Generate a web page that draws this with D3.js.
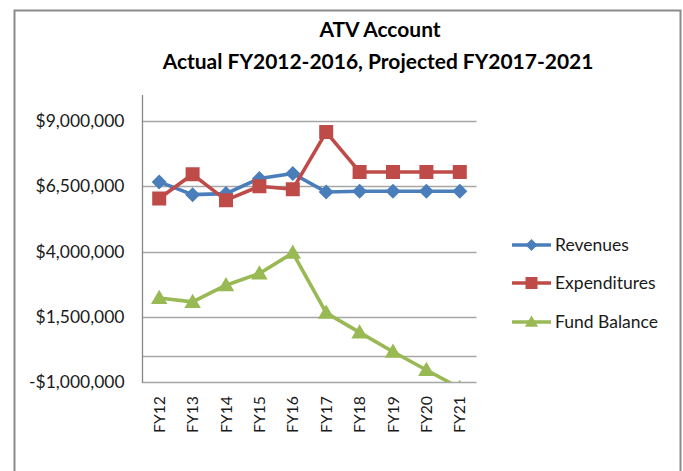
<!DOCTYPE html>
<html>
<head>
<meta charset="utf-8">
<script src="https://cdn.jsdelivr.net/npm/d3@7"></script>
<style>
  html, body { margin: 0; padding: 0; background: #fff; }
  svg { display: block; font-family: Lato, "Open Sans", "DejaVu Sans", sans-serif; }
</style>
</head>
<body>
<svg id="chart" width="683" height="471"></svg>
<script>
const categories = ["FY12", "FY13", "FY14", "FY15", "FY16", "FY17", "FY18", "FY19", "FY20", "FY21"];
const revenues = [6670000, 6180000, 6220000, 6800000, 6990000, 6280000, 6310000, 6310000, 6310000, 6310000];
const expenditures = [6030000, 6960000, 5970000, 6500000, 6390000, 8580000, 7050000, 7050000, 7050000, 7050000];
const fundBalance = [2220000, 2070000, 2710000, 3160000, 3950000, 1650000, 900000, 160000, -540000, -1230000];
const yTicks = [-1000000, 1500000, 4000000, 6500000, 9000000];
const titleLines = ["ATV Account", "Actual FY2012-2016, Projected FY2017-2021"];
const seriesNames = ["Revenues", "Expenditures", "Fund Balance"];

const series = [
  { name: seriesNames[0], values: revenues, color: "#4A7EBB", marker: "diamond" },
  { name: seriesNames[1], values: expenditures, color: "#BE4B48", marker: "square" },
  { name: seriesNames[2], values: fundBalance, color: "#98B954", marker: "triangle" }
];

const svg = d3.select("#chart");
const plot = { left: 142.5, right: 476.5, top: 95, bottom: 382 };

// scale a text's font so that its width matches a target width
function fitFont(sel, base, target) {
  sel.attr("font-size", base);
  const w = sel.node().getComputedTextLength();
  const fs = base * target / w;
  return fs;
}

// chart frame
svg.append("rect")
  .attr("x", 14.5).attr("y", 10.5)
  .attr("width", 666).attr("height", 480)
  .attr("fill", "#fff").attr("stroke", "#8A8A8A").attr("stroke-width", 2);

// title
const title = svg.append("g").attr("font-weight", "bold").attr("fill", "#000").attr("text-anchor", "middle");
const t1 = title.append("text").attr("x", 380).attr("y", 37).text(titleLines[0]);
const t2 = title.append("text").attr("x", 378).attr("y", 69).text(titleLines[1]);
const titleFs = fitFont(t2, 20, 431);
t2.attr("font-size", titleFs);
t1.attr("font-size", titleFs);

const x = d3.scaleBand().domain(categories).range([plot.left, plot.right]).padding(0);
const cx = c => x(c) + x.bandwidth() / 2;
const y = d3.scaleLinear().domain([-1000000, 10000000]).range([plot.bottom, plot.top]);

// gridlines
const gridVals = yTicks.concat([0]);
svg.append("g").selectAll("line").data(gridVals).join("line")
  .attr("x1", plot.left).attr("x2", plot.right)
  .attr("y1", d => Math.round(y(d)) + 0.5).attr("y2", d => Math.round(y(d)) + 0.5)
  .attr("stroke", "#A6A6A6").attr("stroke-width", 1.3);

// y axis
const fmt = d => (d < 0 ? "-$" : "$") + d3.format(",")(Math.abs(d));
const yAxis = d3.axisLeft(y).tickValues(yTicks).tickFormat(fmt).tickSize(0).tickPadding(18);
const yg = svg.append("g").attr("transform", `translate(${plot.left},0)`).call(yAxis);
yg.select(".domain").remove();
const yLabels = yg.selectAll("text").attr("fill", "#1a1a1a").attr("font-family", "Lato, sans-serif");
const yFs = fitFont(yLabels.filter(d => d === 9000000), 16, 89);
yLabels.attr("font-size", yFs);
yg.attr("font-size", yFs);
svg.append("line").attr("x1", plot.left).attr("x2", plot.left)
  .attr("y1", plot.top).attr("y2", plot.bottom + 1)
  .attr("stroke", "#868686").attr("stroke-width", 1.3);

// x axis labels
const xAxis = d3.axisBottom(x).tickSize(0).tickPadding(0);
const xg = svg.append("g").attr("transform", `translate(0,${plot.bottom})`).call(xAxis);
xg.select(".domain").remove();
const xLabels = xg.selectAll("text")
  .attr("fill", "#1a1a1a")
  .attr("font-family", "Lato, sans-serif")
  .attr("text-anchor", "end")
  .attr("transform", "translate(0,14) rotate(-90)")
  .attr("x", 0).attr("y", 0).attr("dy", "0.36em");
const xFs = fitFont(xLabels.filter(d => d === "FY12"), 15, 37);
xLabels.attr("font-size", xFs);

// clip
svg.append("clipPath").attr("id", "clip").append("rect")
  .attr("x", plot.left).attr("y", plot.top)
  .attr("width", plot.right - plot.left + 20).attr("height", plot.bottom - plot.top);

const markerPath = (type, s) => {
  if (type === "diamond") return `M0,${-s}L${s},0L0,${s}L${-s},0Z`;
  if (type === "square") return `M${-s},${-s}H${s}V${s}H${-s}Z`;
  return `M0,${-s * 1.1}L${s * 1.1},${s * 0.8}L${-s * 1.1},${s * 0.8}Z`;
};

const line = d3.line().x((d, i) => cx(categories[i])).y(d => y(d));
const sg = svg.append("g").attr("clip-path", "url(#clip)");
series.forEach(s => {
  sg.append("path").attr("d", line(s.values))
    .attr("fill", "none").attr("stroke", s.color).attr("stroke-width", 3.6)
    .attr("stroke-linejoin", "round");
  const size = s.marker === "diamond" ? 7.5 : (s.marker === "square" ? 7 : 7.5);
  sg.selectAll(null).data(s.values).join("path")
    .attr("transform", (d, i) => `translate(${cx(categories[i])},${y(d)})`)
    .attr("d", markerPath(s.marker, size))
    .attr("fill", s.color);
});

// legend
const legendY = [245, 283, 322];
const lg = svg.append("g");
let legendTexts = [];
series.forEach((s, i) => {
  const g = lg.append("g").attr("transform", `translate(512,${legendY[i]})`);
  g.append("line").attr("x1", 0).attr("x2", 39).attr("stroke", s.color).attr("stroke-width", 3.6);
  g.append("path").attr("transform", "translate(19.5,0)").attr("d", markerPath(s.marker, 6)).attr("fill", s.color);
  const t = g.append("text").attr("x", 43).attr("y", 0).attr("dy", "0.35em")
    .attr("fill", "#1a1a1a").text(s.name);
  legendTexts.push(t);
});
const lgFs = fitFont(legendTexts[2], 15, 103);
legendTexts.forEach(t => t.attr("font-size", lgFs));
</script>
</body>
</html>
